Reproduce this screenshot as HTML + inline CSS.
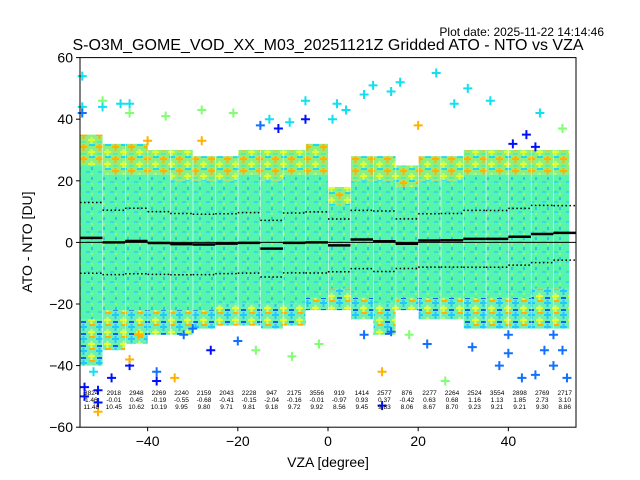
<!DOCTYPE html>
<html><head><meta charset="utf-8">
<style>
body{margin:0;background:#fff;}
svg{display:block;font-family:"Liberation Sans","DejaVu Sans",sans-serif;}
</style></head>
<body>
<svg id="chart" width="640" height="480" viewBox="0 0 640 480" xmlns="http://www.w3.org/2000/svg">
<defs>
<pattern id="upPat" width="16" height="12" patternUnits="userSpaceOnUse">
<rect width="16" height="12" fill="#8cf080"/>
<path d="M0 3h7M3.5 0v7" stroke="#ffb000" stroke-width="2"/>
<path d="M8 8h7M11.5 5v7" stroke="#e0ff30" stroke-width="2"/>
<path d="M9 1h6" stroke="#20d8f0" stroke-width="2"/>
<path d="M1 10h5" stroke="#50f0b0" stroke-width="2"/>
</pattern>
<pattern id="corePat" width="12" height="10" patternUnits="userSpaceOnUse">
<rect width="12" height="10" fill="#55f5b0"/>
<path d="M2 2h4" stroke="#30d0f0" stroke-width="1.5"/>
<path d="M8 7v3" stroke="#20b0ff" stroke-width="1.5"/>
<path d="M7 4h2" stroke="#e0ff40" stroke-width="1"/>
</pattern>
<pattern id="lowPat" width="16" height="12" patternUnits="userSpaceOnUse">
<rect width="16" height="12" fill="#70f0b0"/>
<path d="M0 3h7M3.5 0v7" stroke="#20c8ff" stroke-width="2"/>
<path d="M8 8h7M11.5 5v7" stroke="#e8ff30" stroke-width="2"/>
<path d="M9 1h6" stroke="#ffb000" stroke-width="2"/>
<path d="M1 10h5" stroke="#1060ff" stroke-width="2"/>
</pattern>
</defs>
<text x="604" y="36" font-size="12" text-anchor="end" fill="#000">Plot date: 2025-11-22 14:14:46</text>
<text x="328" y="50" font-size="16" text-anchor="middle" fill="#000">S-O3M_GOME_VOD_XX_M03_20251121Z Gridded ATO - NTO vs VZA</text>
<g id="plot"></g>
<rect x="80" y="57.6" width="496" height="369.6" fill="none" stroke="#000" stroke-width="1"/>
<g id="axes"></g>
<text x="328" y="467" font-size="14" text-anchor="middle">VZA [degree]</text>
<text transform="translate(32,242) rotate(-90)" font-size="14" text-anchor="middle">ATO - NTO [DU]</text>
</svg>
<script>
// ---- data ----
const binStarts = [-55,-50,-45,-40,-35,-30,-25,-20,-15,-10,-5,0,5,10,15,20,25,30,35,40,45,50];
const counts = [3824,2918,2948,2269,2240,2159,2043,2228,947,2175,3556,919,1414,2577,876,2277,2264,2524,3554,2898,2769,2717];
const means = [1.46,-0.01,0.45,-0.19,-0.55,-0.68,-0.41,-0.15,-2.04,-0.16,-0.01,-0.97,0.93,0.37,-0.42,0.63,0.68,1.16,1.13,1.85,2.73,3.10];
const stds = [11.48,10.45,10.62,10.19,9.95,9.80,9.71,9.81,9.18,9.72,9.92,8.56,9.45,9.83,8.06,8.67,8.70,9.23,9.21,9.21,9.30,8.86];
const coreTop = [25,22,22,22,20,20,20,22,20,22,22,12,20,20,18,20,20,22,22,22,22,22];
const coreBottom = [-25,-22,-22,-22,-22,-22,-20,-20,-20,-20,-18,-15,-18,-20,-18,-18,-18,-18,-18,-18,-15,-15];
const sparseTop = [35,32,32,30,30,28,28,30,30,30,32,18,28,28,25,28,28,30,30,30,30,30];
const sparseBottom = [-40,-35,-33,-30,-30,-28,-27,-27,-28,-27,-22,-22,-25,-30,-22,-25,-25,-28,-28,-28,-28,-28];
const outX = [-54.5,-54.5,-54.5,-50,-50,-46,-44,-44,-36,-28,-21,-13,-8.5,-5,-5,2,1,4,8,10,14,16,20,24,28,31,36,47,52,44,41,46,-11,-15,-28,-40,
 -54,-54,-51,-51,-51,-48,-44,-44,-38,-38,-34,-32,-26,-20,-16,-8,-2,12,12,14,18,22,26,32,38,40,43,46,50,52,50,53,48,8,-52,-42,-30,40];
const outY = [54,44,42,46,44,45,45,42,41,43,42,40,39,46,40,45,40,43,48,51,49,52,38,55,45,50,46,42,37,35,32,31,37,38,33,33,
 -47,-50,-52,-48,-55,-44,-40,-38,-45,-42,-44,-30,-35,-32,-35,-37,-33,-53,-42,-29,-30,-33,-45,-34,-40,-36,-44,-43,-40,-35,-30,-44,-35,-30,-42,-30,-28,-30];
const outC = ["c","c","b","g","c","c","c","g","g","g","g","c","c","c","B","c","c","c","c","c","c","c","o","c","c","c","c","c","g","B","B","B","B","b","o","o",
 "B","B","B","B","o","B","B","o","B","b","o","b","B","b","g","g","g","B","o","b","g","b","g","b","b","b","b","b","b","b","b","b","b","b","c","o","b","b"];
const xTicks = [-40,-20,0,20,40];
const yTicks = [-60,-40,-20,0,20,40,60];

// ---- axes ----
const X0=80,X1=576,Y0=57.6,Y1=427.2, XMIN=-55,XMAX=55,YMIN=-60,YMAX=60;
const sx=v=>X0+(v-XMIN)/(XMAX-XMIN)*(X1-X0);
const sy=v=>Y1-(v-YMIN)/(YMAX-YMIN)*(Y1-Y0);
const NS="http://www.w3.org/2000/svg";
const plot=document.getElementById('plot'), axes=document.getElementById('axes');
function mk(tag,attrs,parent){const e=document.createElementNS(NS,tag);for(const k in attrs)e.setAttribute(k,attrs[k]);parent.appendChild(e);return e;}
const colMap={c:"#10e0f0",b:"#1070ff",B:"#0010ff",g:"#80ff70",o:"#ffb000"};
const binW=5, lastEnd=53.5;

binStarts.forEach((b,i)=>{
  const xa=sx(b)+0.5, xb=sx(Math.min(b+binW,lastEnd));
  const up=mk('rect',{x:xa,y:sy(sparseTop[i]),width:xb-xa,height:sy(coreTop[i])-sy(sparseTop[i]),fill:'url(#upPat)'},plot);
  
  
  const lo=mk('rect',{x:xa,y:sy(coreBottom[i]),width:xb-xa,height:sy(sparseBottom[i])-sy(coreBottom[i]),fill:'url(#lowPat)'},plot);
  
  
  const core=mk('rect',{x:xa,y:sy(coreTop[i]),width:xb-xa,height:sy(coreBottom[i])-sy(coreTop[i]),fill:'url(#corePat)'},plot);
  
  
});
outX.forEach((v,i)=>{
  const x=sx(v),y=sy(outY[i]);
  const p=mk('path',{d:`M${x-4.5} ${y}h9M${x} ${y-4.5}v9`,stroke:colMap[outC[i]],'stroke-width':2},plot);
  
  
});
const zl=mk('line',{x1:X0,x2:X1,y1:sy(0),y2:sy(0),stroke:'#000','stroke-width':1},plot);


binStarts.forEach((b,i)=>{
  const xa=sx(b), xb=sx(b+binW);
  const m=mk('line',{x1:xa,x2:xb,y1:sy(means[i]),y2:sy(means[i]),stroke:'#000','stroke-width':2.5},plot);
  
  
  [means[i]+stds[i],means[i]-stds[i]].forEach(v=>{
    const d=mk('line',{x1:xa,x2:xb,y1:sy(v),y2:sy(v),stroke:'#000','stroke-width':1.5,'stroke-dasharray':'1.5,2.5'},plot);
    
    
  });
  const cx=sx(b+binW/2);
  [[counts[i],395],[means[i].toFixed(2),402],[stds[i].toFixed(2),409]].forEach(([t,y])=>{
    const tx=mk('text',{x:cx,y:y,'font-size':6.5,'text-anchor':'middle',fill:'#000'},plot);
    tx.textContent=t;
    
    
  });
});
xTicks.forEach(v=>{
  const x=sx(v);
  const t=mk('line',{x1:x,x2:x,y1:Y1,y2:Y1+4,stroke:'#000'},axes);
  
  
  const l=mk('text',{x:x,y:Y1+19,'font-size':14,'text-anchor':'middle'},axes);
  l.textContent=v<0?'\u2212'+(-v):v;
  
  
});
yTicks.forEach(v=>{
  const y=sy(v);
  const t=mk('line',{x1:X0-4,x2:X0,y1:y,y2:y,stroke:'#000'},axes);
  
  
  const l=mk('text',{x:X0-7,y:y+5,'font-size':14,'text-anchor':'end'},axes);
  l.textContent=v<0?'\u2212'+(-v):v;
  
  
});
</script>
</body></html>
